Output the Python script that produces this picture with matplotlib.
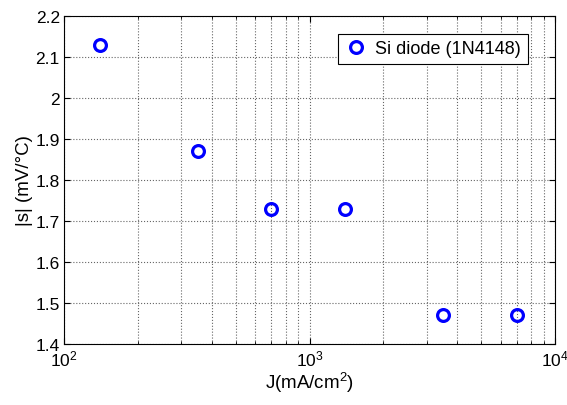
import matplotlib.pyplot as plt
import numpy as np

current_density = [140, 350, 700, 1400, 3500, 7000]   # mA/cm^2
sensitivity = [2.13, 1.87, 1.73, 1.73, 1.47, 1.47]    # mV/°C
series_label = "Si diode (1N4148)"

plt.rcParams['font.family'] = ['Liberation Sans', 'DejaVu Sans']
plt.rcParams['mathtext.fontset'] = 'custom'
plt.rcParams['mathtext.rm'] = 'Liberation Sans'

fig = plt.figure(figsize=(5.67, 4.06), dpi=100)
ax = fig.add_axes([64 / 567, 1 - 345 / 406, 491 / 567, 328 / 406])

ax.semilogx(current_density, sensitivity, 'o', color='#0000ff', markerfacecolor='none',
            markersize=8.5, markeredgewidth=2.3, label=series_label)

ax.set_xlim(1e2, 1e4)
ax.set_ylim(1.4, 2.2)
ax.set_yticks(np.arange(1.4, 2.21, 0.1))
ax.set_yticklabels(['1.4', '1.5', '1.6', '1.7', '1.8', '1.9', '2', '2.1', '2.2'])

ax.grid(True, which='major', linestyle=':', color='#666666', linewidth=0.8)
ax.grid(True, which='minor', axis='x', linestyle=':', color='#666666', linewidth=0.8)
ax.tick_params(which='both', direction='in', top=True, right=True, labelsize=12.5)
ax.tick_params(which='major', length=4, pad=3)
ax.tick_params(which='minor', length=2)
for s in ax.spines.values():
    s.set_linewidth(0.8)

ax.set_xlabel(r"J(mA/cm$^2$)", fontsize=13.5, labelpad=1)
ax.set_ylabel("|s| (mV/°C)", fontsize=13.5, labelpad=2)

leg = ax.legend(loc='upper right', bbox_to_anchor=(0.944, 0.945), fontsize=13,
                fancybox=False, framealpha=1, edgecolor='black', borderpad=0.35,
                handletextpad=0.45, handlelength=1.3, borderaxespad=0)
leg.get_frame().set_linewidth(0.8)

fig.savefig("out.png", dpi=100)
